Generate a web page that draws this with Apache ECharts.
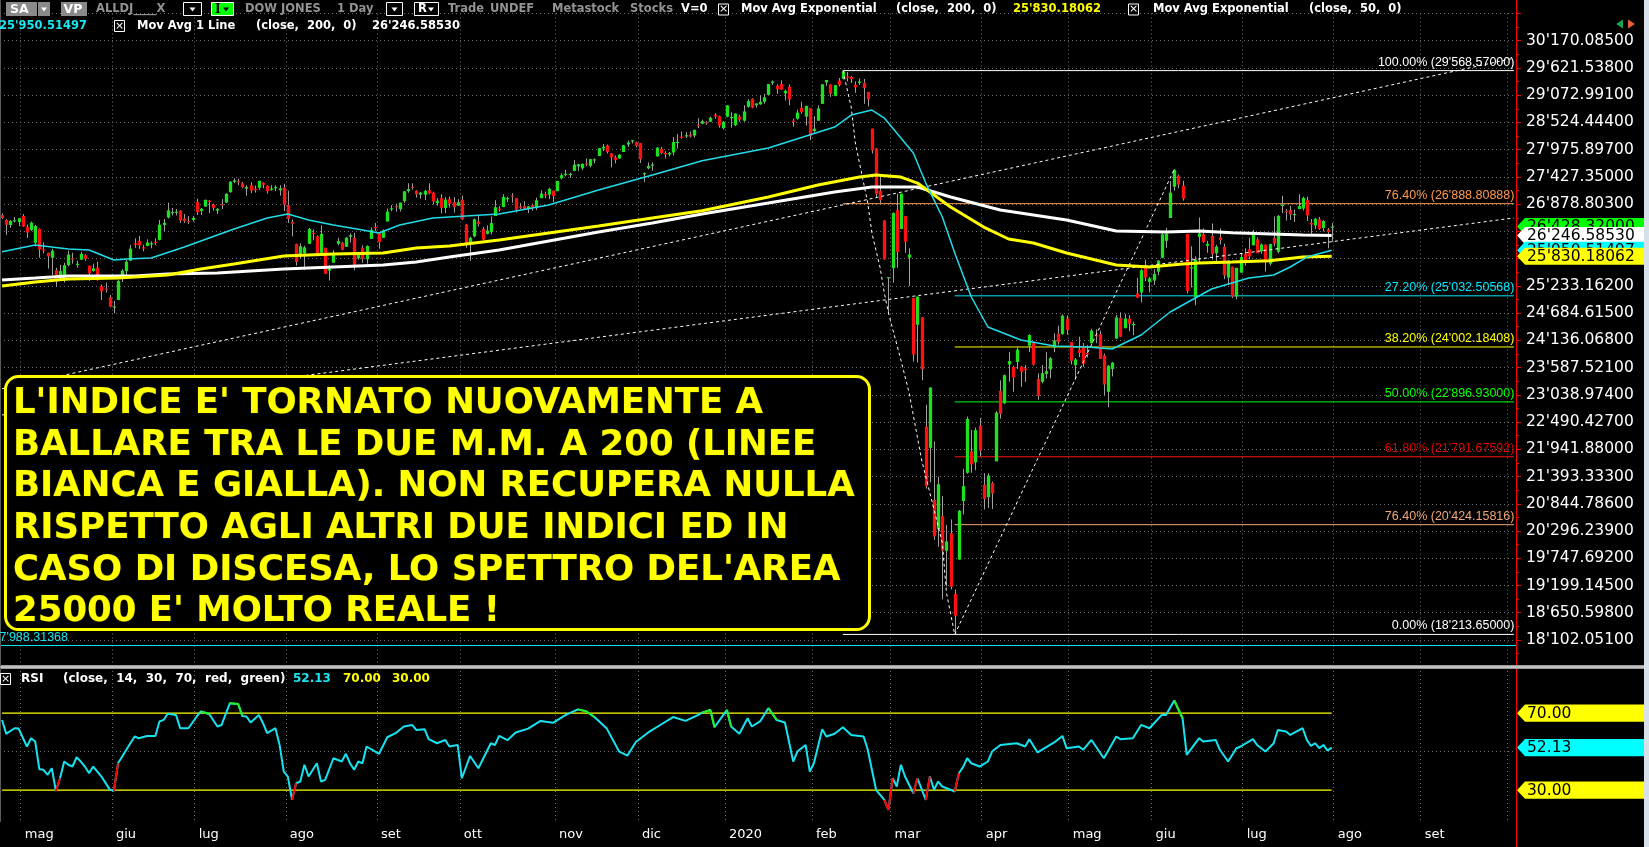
<!DOCTYPE html>
<html><head><meta charset="utf-8">
<script src="https://cdn.jsdelivr.net/npm/echarts/dist/echarts.min.js"></script>
<style>html,body{margin:0;padding:0;background:#000;overflow:hidden}#c{width:1649px;height:847px}</style>
</head><body><div id="c"></div>
<script>
// ---------------- DATA ----------------
const months = ['apr','mag','giu','lug','ago','set','ott','nov','dic','2020','feb','mar','apr','mag','giu','lug','ago','set','ott'];
const monthDays = [5,22,20,22,22,20,23,20,21,21,19,22,21,20,22,22,21,21,2];

// daily candles [open, close, low, high], 24 Apr 2019 .. 31 Jul 2020
const candles = [
// apr 2019
[26656,26597,26580,26695],[26560,26462,26260,26580],[26460,26543,26400,26560],[26540,26554,26510,26620],[26520,26593,26440,26600],
// mag 2019
[26640,26430,26420,26680],[26420,26308,26200,26470],[26360,26505,26340,26530],[26100,26438,26030,26460],[26380,25965,25800,26390],
[25970,25968,25890,26110],[25900,25828,25580,25900],[25800,25942,25450,25980],[25550,25324,25220,25600],[25380,25532,25370,25660],
[25400,25648,25300,25700],[25650,25862,25630,25940],[25790,25764,25680,25900],[25660,25679,25600,25740],[25760,25877,25760,25920],
[25850,25776,25740,25870],[25640,25490,25330,25640],[25530,25585,25520,25680],[25600,25347,25340,25720],[25230,25126,24950,25260],
[25180,25169,25100,25300],[25000,24815,24800,25050],
// giu 2019
[24800,24819,24680,24930],[24950,25332,24950,25350],[25400,25539,25310,25570],[25530,25720,25440,25760],[25740,25984,25730,26060],
[26090,26062,26000,26190],[26140,26048,25980,26240],[26010,26004,25930,26060],[26040,26107,26030,26170],[26070,26090,25990,26130],
[26120,26112,26050,26190],[26160,26465,26150,26560],[26460,26504,26330,26580],[26610,26753,26590,26910],[26700,26719,26650,26800],
[26710,26727,26650,26780],[26750,26548,26500,26760],[26590,26537,26500,26680],[26540,26527,26480,26640],[26560,26600,26530,26640],
// lug 2019
[26920,26717,26660,26990],[26740,26787,26660,26800],[26830,26966,26830,26970],[26950,26922,26700,26960],[26870,26806,26750,26890],
[26750,26783,26680,26800],[26880,26860,26780,26980],[26910,27088,26900,27100],[27120,27332,27110,27340],[27330,27359,27300,27400],
[27340,27335,27260,27390],[27300,27219,27200,27330],[27190,27223,27050,27260],[27260,27154,27100,27320],[27190,27171,27110,27250],
[27210,27349,27170,27350],[27310,27269,27200,27320],[27250,27140,27090,27260],[27190,27192,27150,27260],[27200,27221,27140,27260],
[27160,27198,27050,27260],[27210,26864,26740,27290],
// ago 2019
[26860,26583,26500,27150],[26520,26485,26230,26570],[26080,25718,25640,26080],[25860,26030,25780,26090],[25890,26008,25560,26040],
[26080,26378,26080,26400],[26300,26287,26150,26370],[26230,25897,25860,26250],[25900,26280,25880,26450],[26000,25480,25470,26000],
[25540,25579,25340,25650],[25700,25886,25700,25950],[26080,26136,26050,26200],[26100,25962,25950,26120],[26020,26202,26020,26220],
[26220,26252,26110,26290],[26200,25629,25550,26300],[25790,25899,25760,25910],[26000,25778,25700,26050],[25770,26036,25680,26050],
[26180,26362,26180,26410],[26420,26403,26340,26500],
// set 2019
[26290,26118,25980,26300],[26200,26355,26200,26370],[26530,26728,26530,26790],[26780,26797,26740,26860],[26840,26835,26730,26890],
[26780,26910,26730,26910],[26940,27137,26900,27140],[27140,27182,27110,27300],[27230,27219,27170,27300],[27150,27076,27010,27160],
[27070,27111,26990,27130],[27070,27147,26960,27170],[27160,27094,27080,27300],[27110,26935,26870,27130],[26900,26949,26850,27000],
[27000,26807,26690,27080],[26800,26970,26700,27020],[26980,26891,26810,27030],[26920,26820,26710,27020],[26850,26917,26840,26980],
// ott 2019
[26970,26573,26560,27050],[26470,26078,26000,26480],[26080,26201,25740,26220],[26230,26573,26210,26590],[26530,26478,26430,26640],
[26380,26164,26160,26420],[26280,26347,26270,26450],[26320,26497,26270,26630],[26640,26817,26640,26960],[26790,26787,26730,26840],
[26820,27025,26820,27080],[27000,27001,26920,27030],[27050,27026,26910,27100],[27000,26770,26710,27000],[26830,26827,26780,26900],
[26840,26788,26770,26940],[26780,26834,26700,26840],[26860,26805,26750,26890],[26800,26958,26760,27010],[27000,27091,27000,27160],
[27080,27071,27000,27130],[27070,27186,26980,27210],[27150,27046,26920,27150],
// nov 2019
[27140,27347,27140,27350],[27400,27462,27380,27500],[27480,27492,27440,27570],[27470,27492,27410,27510],[27550,27675,27540,27770],
[27640,27681,27550,27690],[27600,27691,27570,27700],[27700,27691,27640,27800],[27650,27784,27620,27790],[27770,27782,27700,27800],
[27850,28005,27850,28010],[28000,28036,27950,28090],[28060,27934,27900,28080],[27900,27821,27620,27910],[27820,27766,27700,27860],
[27800,27876,27790,27890],[27930,28066,27930,28070],[28080,28121,28030,28160],[28150,28164,28100,28170],[28130,28051,28020,28140],
// dic 2019
[28110,27783,27710,28110],[27500,27503,27320,27520],[27600,27650,27580,27720],[27670,27677,27550,27720],[27840,28015,27840,28030],
[27990,27909,27890,28030],[27910,27881,27800,27950],[27880,27911,27840,27930],[27920,28132,27860,28230],[28130,28135,28000,28290],
[28240,28235,28200,28340],[28250,28267,28210,28330],[28280,28239,28220,28340],[28260,28376,28220,28380],[28480,28455,28410,28610],
[28500,28551,28490,28580],[28530,28515,28480,28550],[28540,28621,28530,28640],[28680,28645,28600,28710],[28650,28462,28420,28660],
[28410,28538,28380,28550],
// gen 2020
[28640,28868,28630,28870],[28630,28634,28420,28730],[28470,28703,28450,28710],[28640,28583,28540,28680],[28560,28745,28540,28870],
[28840,28956,28820,28990],[29000,28824,28810,29010],[28870,28907,28820,28910],[28890,28940,28880,29070],[28940,29030,28900,29100],
[29080,29297,29080,29300],[29320,29348,29280,29370],[29260,29196,29100,29290],[29300,29186,29180,29370],[29110,29160,28970,29180],
[29240,28990,28870,29290],[28560,28535,28440,28600],[28600,28723,28580,28780],[28820,28734,28700,28940],[28640,28859,28460,28860],
[28810,28256,28170,28810],
// feb 2020
[28350,28399,28320,28650],[28560,28807,28560,28870],[28900,29291,28900,29300],[29330,29379,29260,29380],[29290,29103,29040,29290],
[29060,29276,29050,29280],[29370,29277,29250,29420],[29400,29551,29390,29569],[29450,29423,29350,29540],[29440,29398,29320,29460],
[29280,29232,29120,29350],[29320,29348,29280,29410],[29320,29219,28900,29400],[29140,28992,28850,29140],[28400,27961,27900,28400],
[28000,27081,27020,28010],[27150,26957,26900,27480],[26550,25766,25760,26560],[25400,25409,24680,25400],
// mar 2020
[25590,26703,25300,26710],[26760,25917,25600,27090],[26380,27091,26380,27090],[26640,26121,25900,26640],[25800,25865,25230,25990],
[24990,23851,23710,24990],[24450,25018,23690,25020],[24600,23553,23330,24600],[22400,21200,21150,22840],[21970,23185,21280,23190],
[20920,20189,20120,22100],[20330,21237,19980,21390],[20600,19899,18920,21000],[19900,20087,19180,20420],[20250,19174,19120,20530],
[19030,18592,18214,19120],[19720,20704,19720,20720],[20900,21200,20630,21550],[21470,22552,21450,22600],[21900,21637,21470,22330],
[21680,22327,21520,22380],[22420,21917,21800,22570],
// apr 2020
[21230,20943,20730,21460],[20980,21413,20760,21460],[21260,21053,20740,21290],[21700,22680,21700,22710],[23120,22654,22560,23330],
[22870,23434,22850,23450],[23650,23719,23300,23900],[23600,23390,23100,23620],[23700,23950,23560,24000],[23610,23504,23200,23620],
[23570,23538,23300,23640],[24030,24242,23900,24260],[24080,23650,23630,24110],[23360,23019,22940,23470],[23300,23475,23270,23640],
[23460,23515,23370,23900],[23550,23775,23370,23800],[23990,24134,23900,24280],[24270,24101,24050,24430],[24260,24634,24250,24660],
[24570,24346,24250,24640],
// mag 2020
[24100,23724,23650,24100],[23640,23750,23350,23780],[23950,23883,23800,24210],[24010,23664,23600,24080],[23880,23875,23790,24040],
[24080,24331,24070,24370],[24240,24221,24080,24360],[24260,23765,23760,24330],[23830,23248,23030,23870],[23100,23625,22790,23640],
[23560,23685,23410,23700],[24170,24597,24170,24650],[24590,24207,24200,24700],[24380,24576,24380,24670],[24570,24474,24320,24640],
[24450,24465,24240,24510],[25080,24995,24990,25390],[25100,25548,24900,25580],[25650,25401,25330,25760],[25310,25383,25100,25410],
// giu 2020
[25340,25475,25250,25570],[25520,25743,25450,25750],[25800,26270,25790,26320],[26140,26282,26000,26400],[26600,27111,26600,27340],
[27230,27572,27150,27580],[27450,27272,27200,27480],[27250,26990,26950,27350],[26280,25128,25080,26280],[25600,25606,25200,26030],
[25000,25763,24840,25830],[26220,26290,25700,26610],[26270,26120,26100,26390],[26040,26080,25900,26140],[26240,25871,25760,26490],
[25890,26025,25720,26060],[26210,26156,26070,26390],[26020,25446,25370,26080],[25400,25745,25250,25750],[25620,25016,24990,25620],
[25020,25596,24960,25600],[25500,25813,25500,25880],
// lug 2020
[25880,25735,25640,25990],[25970,25827,25770,26200],[26050,26287,26050,26360],[26170,25890,25890,26210],[25930,26067,25880,26090],
[26060,25706,25520,26070],[25680,26075,25640,26080],[26200,26086,26030,26630],[25920,26643,25890,26660],[26840,26870,26700,27050],
[26740,26735,26550,26780],[26760,26672,26560,26840],[26660,26680,26520,26770],[26780,26840,26780,27080],[26790,27005,26750,27030],
[26960,26652,26540,27030],[26500,26469,26280,26580],[26450,26584,26380,26600],[26570,26379,26360,26620],[26400,26539,26330,26560],
[26370,26314,25990,26400],[26410,26428,26120,26500]
];

// moving averages: [bar index, value]
const sma200 = [[0,25351],[8,25391],[16,25432],[32,25432],[40,25472],[52,25492],[68,25573],[80,25613],[92,25653],[100,25714],[108,25814],[120,25955],[132,26137],[144,26318],[157,26499],[169,26680],[185,26902],[201,27123],[210,27224],[221,27224],[229,27022],[241,26761],[257,26559],[269,26338],[281,26318],[289,26338],[297,26304],[314,26257],[321,26247]];
const ema200 = [[0,25230],[8,25311],[16,25371],[28,25391],[40,25452],[48,25573],[56,25673],[68,25834],[80,25875],[92,25895],[100,25996],[108,26036],[120,26157],[132,26298],[144,26439],[157,26600],[169,26747],[185,27022],[197,27264],[207,27425],[211,27466],[217,27425],[221,27304],[225,27063],[229,26821],[237,26418],[243,26177],[249,26096],[257,25895],[269,25653],[277,25613],[285,25673],[289,25694],[297,25714],[306,25740],[314,25814],[321,25830]];
const ema50 = [[0,25921],[8,26056],[16,25976],[21,25955],[27,25754],[30,25774],[36,25794],[44,26016],[56,26378],[64,26600],[69,26680],[74,26560],[80,26459],[87,26358],[91,26298],[96,26459],[104,26600],[108,26620],[120,26680],[132,26862],[144,27164],[157,27466],[169,27754],[185,28009],[201,28432],[205,28674],[210,28775],[213,28613],[217,28211],[220,27909],[223,27304],[227,26620],[230,25895],[234,25009],[238,24405],[246,24143],[254,24022],[262,24002],[268,23962],[275,24244],[282,24707],[292,25170],[301,25391],[307,25452],[311,25613],[315,25814],[321,25951]];

// RSI(14): [bar index, value]
const rsi = [[0,66.5],[1,59.3],[3,62.2],[4,62.0],[6,52.7],[7,57.0],[8,55.3],[9,40.9],[10,40.6],[11,38.0],[12,41.4],[13,29.6],[14,36.2],[15,44.9],[16,43.2],[17,42.3],[18,47.1],[19,44.9],[20,42.3],[21,38.8],[22,42.3],[24,37.1],[26,30.3],[27,29.7],[28,44.0],[30,51.0],[32,57.9],[33,57.0],[35,58.2],[37,58.2],[38,65.7],[39,66.5],[40,69.7],[42,69.1],[43,62.2],[45,62.2],[47,68.3],[48,70.9],[50,69.6],[52,63.1],[53,63.9],[55,75.2],[57,74.8],[58,68.6],[59,68.3],[60,65.2],[62,69.1],[63,64.8],[64,59.6],[66,62.2],[67,53.5],[68,39.7],[69,37.1],[70,25.0],[71,33.6],[72,34.5],[73,43.2],[74,37.1],[76,44.0],[77,34.5],[78,35.4],[80,46.6],[82,44.9],[83,48.9],[84,44.0],[85,40.6],[86,44.9],[87,44.0],[88,52.7],[91,48.9],[93,57.5],[95,59.6],[97,63.1],[99,63.9],[100,61.3],[102,61.7],[103,56.5],[105,54.4],[107,56.1],[108,52.7],[110,53.5],[111,36.2],[113,47.8],[115,41.4],[118,54.4],[119,53.5],[120,58.2],
[122,56],[124,60],[127,62],[130,66],[133,65],[136,69],[139,72],[141,71],[143,68],[146,62],[149,50],[151,48],[153,55],[156,60],[159,64],[162,68],[165,66],[168,69],
[169,70.3],[171,71.7],[172,62.7],[175,71.7],[176,63.1],[178,59.3],[180,67.4],[181,63.1],[183,65.7],[185,72.6],[187,66.5],[189,65.2],[191,44.9],[192,50.1],[194,53.5],[195,39.7],[196,44.0],[198,61.7],[199,57.9],[201,59.3],[203,62.7],[205,58.7],[208,57.9],[209,51.0],[211,30.2],[213,25.0],[214,19.8],[215,36.2],[216,31.9],[217,43.2],[218,37.1],[220,28.4],[221,36.2],[223,25.0],[224,37.1],[225,30.2],[226,34.5],[227,31.9],[230,29.3],[231,38.8],[232,42.0],[233,46.6],[234,44.0],[236,42.3],[238,44.9],[239,50.1],[241,53.5],[245,54.4],[247,52.7],[248,56.5],[250,49.6],[254,54.8],[256,58.2],[257,51.8],[260,52.7],[261,51.0],[263,56.1],[266,46.6],[269,57.9],[270,56.5],[273,57.0],[275,63.9],[277,62.2],[280,69.1],[281,69.1],[283,76.6],[285,67.4],[286,48.4],[289,57.0],[290,55.3],[293,56.1],[294,51.0],[296,44.9],[298,51.8],[299,52.7],[302,56.5],[303,53.5],[305,50.1],[307,54.4],[308,61.3],[310,60.5],[311,58.7],[314,62.2],[315,56.1],[316,53.0],[317,54.4],[318,51.8],[319,53.5],[320,50.6],[321,52.13]];

// Fibonacci levels
const fibPct   = ['100.00%','76.40%','27.20%','38.20%','50.00%','61.80%','76.40%','0.00%'];
const fibPrice = [29568.57, 26888.80888, 25032.50568, 24002.18408, 22896.93, 21791.67592, 20424.15816, 18213.65];
const fibStart = [203, 203, 230, 230, 230, 230, 230, 203];
const fibEnd = 365;
// trend lines drawn on the chart: [bar index, price]
const trendUpper = [[0,23162],[365,29819]];
const trendLower = [[0,22633],[365,26601]];
const crashPath  = [[203,29569],[205,28835],[206,28110],[209,26902],[210,26298],[212,25593],[213,25089],[214,24687],[217,23740],[219,23076],[222,21727],[224,21062],[227,20055],[228,19049],[230,18214]];
const rallyLine  = [[230,18214],[283,27580]];
const supportLevel = 17988.31368;
const lastClose = 26428.32, lastSma200 = 26246.5853, lastEma50 = 25950.51497, lastEma200 = 25830.18062, lastRsi = 52.13;
const rsiLevels = [70, 30];
const priceStep = 548.547;
const noteLines = ["L'INDICE E' TORNATO NUOVAMENTE A","BALLARE TRA LE DUE M.M. A 200 (LINEE","BIANCA E GIALLA). NON RECUPERA NULLA","RISPETTO AGLI ALTRI DUE INDICI ED IN","CASO DI DISCESA, LO SPETTRO DEL'AREA","25000 E' MOLTO REALE !"];

// ---------------- STYLE ----------------
const fibColors = ['#ffffff','#ff9a4a','#00e8ff','#ffff00','#00ff00','#ff1010','#f0a878','#ffffff'];
const fibTextColors = ['#ffffff','#ff9a4a','#00e8ff','#ffff00','#00ff00','#e00000','#f0a878','#ffffff'];
const GRID_DOT = {color:'#6e6e6e', type:[1,3], width:1};

// ---------------- BUILD ----------------
function fmt(v, dec){
  const s = v.toFixed(dec); const parts = s.split('.');
  const ip = parts[0].replace(/\B(?=(\d{3})+(?!\d))/g, "'");
  return parts.length > 1 ? ip + '.' + parts[1] : ip;
}
const cats = []; const labelAt = {}; const gridAt = {};
let k = 0;
months.forEach((m, mi) => {
  for (let d = 0; d < monthDays[mi]; d++) {
    if (d === 0 && mi > 0) { gridAt[k] = true; if (mi < months.length - 1) labelAt[k] = m; }
    cats.push(m + '_' + mi + '_' + d); k++;
  }
});
const candleData = candles.map((c, i) => [i, c[0], c[1], c[2], c[3]]);

function renderCandle(params, api){
  const i = api.value(0), o = api.value(1), c = api.value(2), l = api.value(3), h = api.value(4);
  const pO = api.coord([i, o]), pC = api.coord([i, c]), pL = api.coord([i, l]), pH = api.coord([i, h]);
  const bw = api.size([1, 0])[0] * 0.8;
  const x = Math.round(pO[0]) + 0.5;
  const top = Math.min(pO[1], pC[1]), bot = Math.max(pO[1], pC[1]);
  return {type:'group', children:[
    {type:'line', shape:{x1:x, y1:pH[1], x2:x, y2:pL[1]}, style:{stroke:'#a0a0a0', lineWidth:1}},
    {type:'rect', shape:{x:x - bw/2, y:top, width:bw, height:Math.max(bot - top, 1.2)}, style:{fill: c >= o ? '#1fe01f' : '#ff1010'}}
  ]};
}

function runs(pred){
  const res = []; let cur = null;
  for (let j = 0; j < rsi.length - 1; j++) {
    if (pred(rsi[j][1])) { if (!cur) { cur = [rsi[j]]; res.push(cur); } cur.push(rsi[j+1]); }
    else cur = null;
  }
  return res;
}

const series = [];
series.push({type:'custom', name:'candles', xAxisIndex:0, yAxisIndex:0, data:candleData, encode:{x:0, y:[1,2,3,4]}, renderItem:renderCandle, z:3});
fibPrice.forEach((p, i) => {
  series.push({type:'line', xAxisIndex:0, yAxisIndex:0, data:[[fibStart[i], p],[fibEnd, p]], symbol:'none', silent:true,
    lineStyle:{color:fibColors[i], width:1}, z:2});
});
series.push({type:'line', xAxisIndex:0, yAxisIndex:0, data:sma200, symbol:'none', lineStyle:{color:'#ffffff', width:3}, z:5});
series.push({type:'line', xAxisIndex:0, yAxisIndex:0, data:ema200, symbol:'none', lineStyle:{color:'#ffff00', width:3}, z:5});
series.push({type:'line', xAxisIndex:0, yAxisIndex:0, data:ema50, symbol:'none', lineStyle:{color:'#20dce8', width:1.5}, z:5,
  markLine:{silent:true, symbol:['none','none'], label:{show:false}, lineStyle:{color:'#00e5ee', type:'solid', width:1}, data:[{yAxis:supportLevel}]}});
[trendUpper, trendLower, crashPath, rallyLine].forEach(d => {
  series.push({type:'line', xAxisIndex:0, yAxisIndex:0, data:d, symbol:'none', silent:true, lineStyle:{color:'#ffffff', width:1, type:[3,3]}, z:4});
});
// RSI pane
series.push({type:'line', xAxisIndex:1, yAxisIndex:1, data:rsi, symbol:'none', lineStyle:{color:'#17e3f0', width:2}, z:5,
  markLine:{silent:true, symbol:['none','none'], label:{show:false}, lineStyle:GRID_DOT, data:[{yAxis:50}]}});
runs(v => v < 30).forEach(r => series.push({type:'line', xAxisIndex:1, yAxisIndex:1, data:r, symbol:'none', lineStyle:{color:'#ff0000', width:2}, z:6}));
runs(v => v > 70).forEach(r => series.push({type:'line', xAxisIndex:1, yAxisIndex:1, data:r, symbol:'none', lineStyle:{color:'#22ee22', width:2}, z:6}));
rsiLevels.forEach(v => series.push({type:'line', xAxisIndex:1, yAxisIndex:1, data:[[0,v],[candles.length-1,v]], symbol:'none', silent:true, lineStyle:{color:'#ffff00', width:1.2}, z:4}));

const xBase = {type:'category', data:cats, boundaryGap:true, axisLine:{show:false}, axisTick:{show:false},
  splitLine:{show:true, interval:(i) => !!gridAt[i], lineStyle:GRID_DOT}};
const option = {
  backgroundColor:'#000', animation:false,
  grid:[{left:0, right:133, top:13.5, height:653.7}, {left:0, right:133, top:667, height:154}],
  xAxis:[
    Object.assign({}, xBase, {gridIndex:0, axisLabel:{show:false}}),
    Object.assign({}, xBase, {gridIndex:1, axisLabel:{show:true, interval:(i) => labelAt[i] !== undefined, formatter:(v, i) => labelAt[i] || '',
      align:'left', padding:[0,0,0,2], margin:7, color:'#ffffff', fontSize:13, fontFamily:'DejaVu Sans'}})
  ],
  yAxis:[
    {type:'value', gridIndex:0, position:'right', min:32*priceStep, max:56*priceStep, interval:priceStep,
      axisLine:{show:true, lineStyle:{color:'#ff0000'}}, axisTick:{show:true, length:5, lineStyle:{color:'#ff0000'}},
      minorTick:{show:true, splitNumber:2, length:3, lineStyle:{color:'#ff0000'}},
      axisLabel:{show:true, margin:10, color:'#ffffff', fontSize:15.5, fontFamily:'DejaVu Sans', showMinLabel:false, showMaxLabel:false, formatter:(v) => fmt(v, 5)},
      splitLine:{show:true, lineStyle:GRID_DOT}},
    {type:'value', gridIndex:1, position:'right', min:14, max:94, axisLine:{show:false}, axisTick:{show:false}, axisLabel:{show:false}, splitLine:{show:false}}
  ],
  series:series
};
const chart = echarts.init(document.getElementById('c'), null, {renderer:'canvas', width:1649, height:847});
chart.setOption(option);

// ---------------- ANNOTATIONS (text, tags) ----------------
const G = [];
let zc = 100;
const HB = 'bold 11.5px "DejaVu Sans"';
const HR = 'bold 12px "DejaVu Sans"';
function T(x, y, s, fill, font, align){
  G.push({type:'text', x:x, y:y, z:zc, style:{text:s, fill:fill, font:font || HB,
    textAlign:align || 'left', align:align || 'left', textVerticalAlign:'middle', verticalAlign:'middle'}});
}
function R(x, y, w, h, fill, stroke, r){ G.push({type:'rect', z:zc, shape:{x:x, y:y, width:w, height:h, r:r || 0}, style:{fill:fill || 'none', stroke:stroke || null, lineWidth:1}}); }
function tri(cx, cy, fill){ G.push({type:'polygon', z:zc+1, shape:{points:[[cx-3,cy-2],[cx+3,cy-2],[cx,cy+2]]}, style:{fill:fill}}); }
function chk(x, cy){ R(x+0.5, cy-5.5, 10, 11, '#000', '#ffffff'); G.push({type:'text', x:x+5.5, y:cy, z:zc+1, style:{text:'×', fill:'#fff', font:'11px "DejaVu Sans"', textAlign:'center', align:'center', textVerticalAlign:'middle', verticalAlign:'middle'}}); }
const GRAY = '#939393';
// side strip, separator, axis line
R(1644, 0, 5, 847, '#d8e0ea');
G.push({type:'line', z:zc, shape:{x1:1516.5, y1:0, x2:1516.5, y2:847}, style:{stroke:'#ff0000', lineWidth:1}});
R(0, 665, 1644, 4, '#9a9a9a'); G.push({type:'line', z:zc+1, shape:{x1:0, y1:667, x2:1644, y2:667}, style:{stroke:'#e8e8e8', lineWidth:1.2}});
G.push({type:'line', z:zc, shape:{x1:0.5, y1:0, x2:0.5, y2:822}, style:{stroke:'#5a5a5a', lineWidth:1}});
// header line 1
R(6, 2, 31, 14, '#8a8a8a'); T(10, 9.5, 'SA', '#fff', 'bold 12.5px "DejaVu Sans"');
R(38, 2, 12, 14, '#8a8a8a'); tri(44, 9.5, '#fff');
R(61, 2, 26, 14, '#8a8a8a'); T(63.5, 9.5, 'VP', '#fff', 'bold 12.5px "DejaVu Sans"');
T(96, 9.5, 'ALLDJ____X', GRAY);
R(183.5, 2.5, 18, 13, '#000', '#fff'); tri(192.5, 9.5, '#fff');
R(211.5, 2.5, 22, 13, '#00ff00', '#fff'); T(215, 9.5, 'I', '#000', 'bold 12px "DejaVu Serif"'); tri(226, 9.5, '#000');
T(245, 9.5, 'DOW JONES', GRAY); T(337, 9.5, '1 Day', GRAY);
R(386.5, 2.5, 16, 13, '#000', '#fff'); tri(394.5, 9.5, '#fff');
R(414.5, 2.5, 24, 13, '#000', '#fff'); T(418, 9.5, 'R', '#fff'); tri(431, 9.5, '#fff');
T(448, 9.5, 'Trade', GRAY); T(490, 9.5, 'UNDEF', GRAY); T(552, 9.5, 'Metastock', GRAY); T(630, 9.5, 'Stocks', GRAY);
T(681, 9.5, 'V=0', '#fff');
chk(718, 9.5); T(741, 9.5, 'Mov Avg Exponential', '#fff'); T(896, 9.5, '(close,  200,  0)', '#fff'); T(1013, 9.5, fmt(lastEma200, 5), '#ffff00');
chk(1128, 9.5); T(1153, 9.5, 'Mov Avg Exponential', '#fff'); T(1309, 9.5, '(close,  50,  0)', '#fff');
// header line 2
T(-1, 26, fmt(lastEma50, 5), '#19e6f0');
chk(114, 26); T(137, 26, 'Mov Avg 1 Line', '#fff'); T(256, 26, '(close,  200,  0)', '#fff'); T(372, 26, fmt(lastSma200, 5), '#fff');
// top-right arrows
G.push({type:'polygon', z:zc, shape:{points:[[1616,24],[1623,19.5],[1623,28.5]]}, style:{fill:'#1aa05a'}});
G.push({type:'polygon', z:zc, shape:{points:[[1635,24],[1628,19.5],[1628,28.5]]}, style:{fill:'#e8603c'}});
// RSI header
chk(0, 679); T(21, 679, 'RSI', '#fff', HR); T(63, 679, '(close,  14,  30,  70,  red,  green)', '#fff', HR);
T(293, 679, lastRsi.toFixed(2), '#19e6f0', HR); T(343, 679, rsiLevels[0].toFixed(2), '#ffff00', HR); T(392, 679, rsiLevels[1].toFixed(2), '#ffff00', HR);
// fib labels
fibPrice.forEach((p, i) => {
  const pt = chart.convertToPixel({gridIndex:0}, [fibEnd, p]);
  T(pt[0] + 0.5, pt[1] - 8.5, fibPct[i] + ' (' + fmt(p, 5) + ')', fibTextColors[i], '12.5px "Liberation Sans"', 'right');
});
// support label
{ const pt = chart.convertToPixel({gridIndex:0}, [0, supportLevel]); T(68, pt[1] - 8, fmt(supportLevel, 5), '#19e6f0', '12.5px "Liberation Sans"', 'right'); }
// value tags
function tag(cy, fill, text){
  zc += 2;
  G.push({type:'polygon', z:zc, shape:{points:[[1517,cy],[1525,cy-8.6],[1644,cy-8.6],[1644,cy+8.6],[1525,cy+8.6]]}, style:{fill:fill}});
  G.push({type:'text', x:1527, y:cy + 0.5, z:zc+1, style:{text:text, fill:'#000', font:'15.5px "DejaVu Sans"', textAlign:'left', align:'left', textVerticalAlign:'middle', verticalAlign:'middle'}});
}
const py = (v) => chart.convertToPixel({gridIndex:0}, [0, v])[1];
const ry = (v) => chart.convertToPixel({gridIndex:1}, [0, v])[1];
tag(py(lastClose), '#00ff00', fmt(lastClose, 5));
tag(py(lastSma200), '#ffffff', fmt(lastSma200, 5));
tag(py(lastEma50), '#00ffff', fmt(lastEma50, 5));
tag(py(lastEma200), '#ffff00', fmt(lastEma200, 5));
tag(ry(rsiLevels[0]), '#ffff00', rsiLevels[0].toFixed(2));
tag(ry(lastRsi), '#00ffff', lastRsi.toFixed(2));
tag(ry(rsiLevels[1]), '#ffff00', rsiLevels[1].toFixed(2));
// note box
zc += 2;
G.push({type:'rect', z:zc, shape:{x:5.5, y:376.5, width:864, height:253, r:13}, style:{fill:'#000', stroke:'#ffff00', lineWidth:3}});
noteLines.forEach((s, i) => {
  G.push({type:'text', x:13, y:404 + i * 41.6, z:zc+1, style:{text:s, fill:'#ffff00', font:'bold 35.5px "DejaVu Sans"', textAlign:'left', align:'left', textVerticalAlign:'middle', verticalAlign:'middle', stroke:'#3a3a00', lineWidth:0.6}});
});
chart.setOption({graphic:G});
</script></body></html>
